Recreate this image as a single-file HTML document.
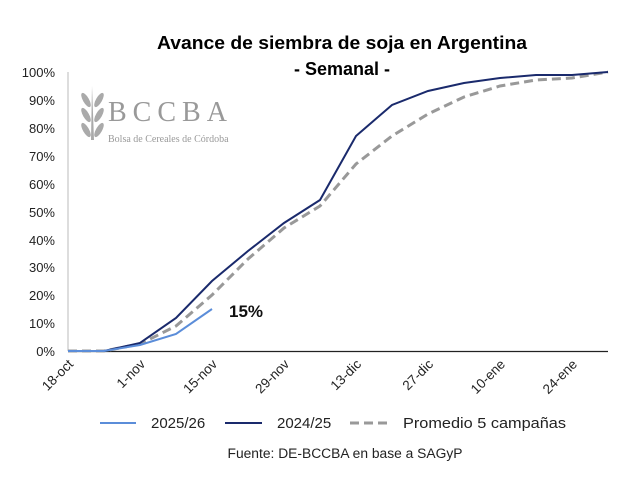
<!DOCTYPE html>
<html><head><meta charset="utf-8"><style>
body{margin:0;background:#fff;}
svg{display:block;font-family:"Liberation Sans",Arial,sans-serif;}
</style></head><body>
<svg width="640" height="479" viewBox="0 0 640 479" xmlns="http://www.w3.org/2000/svg">
<text x="342" y="49" font-size="18" font-weight="bold" text-anchor="middle" fill="#000" textLength="370" lengthAdjust="spacingAndGlyphs">Avance de siembra de soja en Argentina</text>
<text x="342" y="75" font-size="18" font-weight="bold" text-anchor="middle" fill="#000">- Semanal -</text>
<!-- logo -->
<g fill="#aaa">
<path d="M92 86 L94 140 L91 140 Z"/>
<ellipse cx="86" cy="100" rx="3" ry="8" transform="rotate(-30 86 100)"/>
<ellipse cx="99" cy="100" rx="3" ry="8" transform="rotate(30 99 100)"/>
<ellipse cx="86" cy="115" rx="3" ry="8" transform="rotate(-30 86 115)"/>
<ellipse cx="99" cy="115" rx="3" ry="8" transform="rotate(30 99 115)"/>
<ellipse cx="86" cy="130" rx="3" ry="8" transform="rotate(-30 86 130)"/>
<ellipse cx="99" cy="130" rx="3" ry="8" transform="rotate(30 99 130)"/>
</g>
<text x="108" y="121" font-size="28" fill="#999" font-family="Liberation Serif,serif" letter-spacing="6">BCCBA</text>
<text x="108" y="142" font-size="10" fill="#999" font-family="Liberation Serif,serif">Bolsa de Cereales de Córdoba</text>
<!-- axes -->
<line x1="68" y1="72" x2="68" y2="351" stroke="#bbb"/>
<line x1="68" y1="351.5" x2="608" y2="351.5" stroke="#222" stroke-width="1.2"/>
<g font-size="13" fill="#222" text-anchor="end">
<text x="55" y="356">0%</text><text x="55" y="328">10%</text><text x="55" y="300">20%</text><text x="55" y="272">30%</text><text x="55" y="245">40%</text><text x="55" y="217">50%</text><text x="55" y="189">60%</text><text x="55" y="161">70%</text><text x="55" y="133">80%</text><text x="55" y="105">90%</text><text x="55" y="77">100%</text>
</g>
<g font-size="13.5" fill="#222" text-anchor="end">
<text transform="translate(74,365) rotate(-45)">18-oct</text>
<text transform="translate(146,365) rotate(-45)">1-nov</text>
<text transform="translate(218,365) rotate(-45)">15-nov</text>
<text transform="translate(290,365) rotate(-45)">29-nov</text>
<text transform="translate(362,365) rotate(-45)">13-dic</text>
<text transform="translate(434,365) rotate(-45)">27-dic</text>
<text transform="translate(506,365) rotate(-45)">10-ene</text>
<text transform="translate(578,365) rotate(-45)">24-ene</text>
</g>
<polyline fill="none" stroke="#999" stroke-width="3" stroke-dasharray="9,5" points="68,351 104,351 140,344 176,326 212,295 248,259 284,228 320,206 356,164 392,136 428,114 464,97 500,86 536,80 572,78 608,72"/>
<polyline fill="none" stroke="#1a2a6c" stroke-width="2" points="68,351 104,351 140,343 176,318 212,281 248,251 284,223 320,200 356,136 392,105 428,91 464,83 500,78 536,75 572,75 608,72"/>
<polyline fill="none" stroke="#5b8dd9" stroke-width="2" points="68,351 104,351 140,345 176,334 212,309"/>
<text x="229" y="317" font-size="17" font-weight="bold" fill="#111">15%</text>
<!-- legend -->
<line x1="100" y1="423" x2="136" y2="423" stroke="#5b8dd9" stroke-width="2"/>
<text x="151" y="428" font-size="15" fill="#222">2025/26</text>
<line x1="225" y1="423" x2="262" y2="423" stroke="#1a2a6c" stroke-width="2"/>
<text x="277" y="428" font-size="15" fill="#222">2024/25</text>
<line x1="350" y1="423" x2="388" y2="423" stroke="#999" stroke-width="3" stroke-dasharray="9,5"/>
<text x="403" y="428" font-size="15" fill="#222" textLength="163" lengthAdjust="spacingAndGlyphs">Promedio 5 campañas</text>
<text x="345" y="458" font-size="13.5" fill="#222" text-anchor="middle" textLength="235" lengthAdjust="spacingAndGlyphs">Fuente: DE-BCCBA en base a SAGyP</text>
</svg>
</body></html>
